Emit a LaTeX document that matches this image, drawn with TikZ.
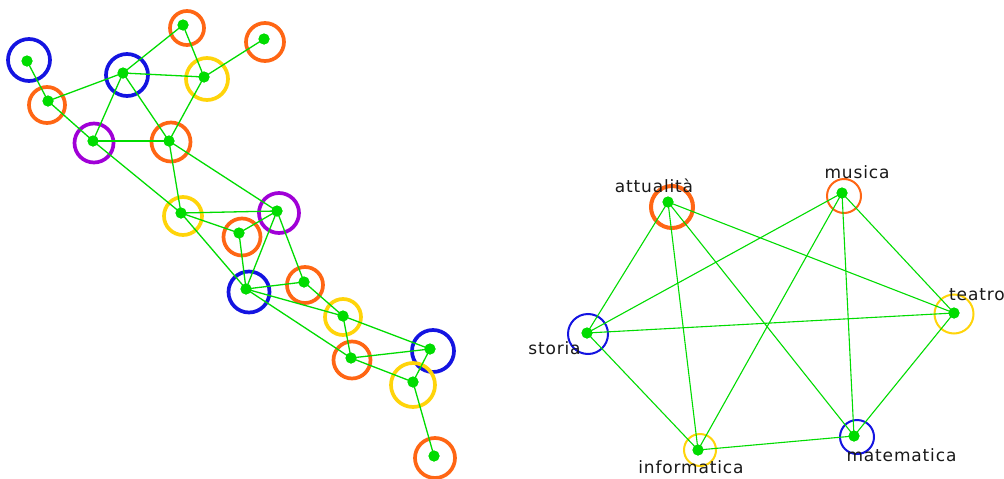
\documentclass[tikz,border=0pt]{standalone}
\usepackage{fontspec}
\setmainfont{DejaVu Sans}[LetterSpace=5]
\definecolor{gg}{RGB}{0,220,0}
\definecolor{cor}{RGB}{255,102,20}
\definecolor{cbl}{RGB}{20,20,225}
\definecolor{cye}{RGB}{255,212,10}
\definecolor{cpu}{RGB}{160,0,215}
\tikzset{
  dot/.style={circle,fill=gg,inner sep=0pt,minimum size=11pt},
  ring/.style={circle,draw=#1,line width=3.7pt,inner sep=0pt},
  thinring/.style={circle,draw=#1,line width=2pt,inner sep=0pt},
  edge/.style={draw=gg,line width=1.3pt},
  redge/.style={draw=gg,line width=1.1pt},
  lab/.style={inner sep=0pt,anchor=base,font=\fontsize{17}{20}\selectfont,text=black!90}
}
\begin{document}
\begin{tikzpicture}[x=1pt,y=-1pt]
\useasboundingbox[fill=white] (0,0) rectangle (1004,479);
% rings (left)
\node[ring=cbl,minimum size=42pt] (rA) at (29,60) {};
\node[ring=cor,minimum size=36pt] (rB) at (47,105) {};
\node[ring=cbl,minimum size=42pt] (rC) at (127,75) {};
\node[ring=cor,minimum size=34pt] (rD) at (187,28) {};
\node[ring=cor,minimum size=38pt] (rE) at (265,42) {};
\node[ring=cye,minimum size=42pt] (rF) at (207,79) {};
\node[ring=cpu,minimum size=39pt] (rG) at (94,143) {};
\node[ring=cor,minimum size=39pt] (rH) at (171,142) {};
\node[ring=cye,minimum size=38pt] (rI) at (183,216) {};
\node[ring=cpu,minimum size=40pt] (rJ) at (279,213) {};
\node[ring=cor,minimum size=37pt] (rK) at (242,237) {};
\node[ring=cbl,minimum size=41pt] (rL) at (249,292) {};
\node[ring=cor,minimum size=36pt] (rM) at (305,285) {};
\node[ring=cye,minimum size=36pt] (rN) at (343,317) {};
\node[ring=cor,minimum size=37pt] (rO) at (352,360) {};
\node[ring=cbl,minimum size=42pt] (rP) at (433,351) {};
\node[ring=cye,minimum size=44pt] (rQ) at (413,385) {};
\node[ring=cor,minimum size=40pt] (rR) at (435,458) {};
% dots (left)
\node[dot] (A) at (27,61) {};
\node[dot] (B) at (48,101) {};
\node[dot] (C) at (123,73) {};
\node[dot] (D) at (183,25) {};
\node[dot] (E) at (264,39) {};
\node[dot] (F) at (204,77) {};
\node[dot] (G) at (93,141) {};
\node[dot] (H) at (169,141) {};
\node[dot] (I) at (181,213) {};
\node[dot] (J) at (277,211) {};
\node[dot] (K) at (239,233) {};
\node[dot] (L) at (246,289) {};
\node[dot] (M) at (304,282) {};
\node[dot] (N) at (343,316) {};
\node[dot] (O) at (351,358) {};
\node[dot] (P) at (430,349) {};
\node[dot] (Q) at (413,382) {};
\node[dot] (R) at (434,456) {};
% edges (left)
\foreach \a/\b in {A/B,B/C,B/G,C/D,C/F,C/G,C/H,D/F,E/F,F/H,G/H,G/I,H/I,H/J,I/J,I/K,I/L,J/K,J/L,J/M,K/L,L/M,L/N,L/O,M/N,N/O,N/P,O/P,O/Q,P/Q,Q/R}
  \draw[edge] (\a.center) -- (\b.center);
\foreach \n in {A,B,C,D,E,F,G,H,I,J,K,L,M,N,O,P,Q,R}
  \node[dot] at (\n) {};
% right graph rings
\node[ring=cor,line width=4pt,minimum size=42pt] (ratt) at (672,207) {};
\node[thinring=cor,minimum size=34pt] (rmus) at (844,196) {};
\node[thinring=cye,minimum size=39pt] (rtea) at (954,314) {};
\node[thinring=cbl,minimum size=40pt] (rsto) at (588,334) {};
\node[thinring=cye,minimum size=32pt] (rinf) at (700,450) {};
\node[thinring=cbl,minimum size=34pt] (rmat) at (857,437) {};
% right graph dots
\node[dot] (att) at (668,202) {};
\node[dot] (mus) at (842,193) {};
\node[dot] (tea) at (954,313) {};
\node[dot] (sto) at (587,333) {};
\node[dot] (inf) at (698,450) {};
\node[dot] (mat) at (854,436) {};
\foreach \a/\b in {att/sto,att/inf,att/mat,att/tea,mus/sto,mus/inf,mus/mat,mus/tea,sto/tea,sto/inf,inf/mat,tea/mat}
  \draw[redge] (\a.center) -- (\b.center);
\foreach \n in {att,mus,tea,sto,inf,mat}
  \node[dot] at (\n) {};
% labels
\node[lab] (latt) at (654,192) {attualità};
\node[lab] (lmus) at (857,178) {musica};
\node[lab,anchor=base west] (ltea) at (949,300) {teatro};
\node[lab] (lsto) at (554.5,354) {storia};
\node[lab] (linf) at (691,473) {informatica};
\node[lab] (lmat) at (901.5,461) {matematica};
\end{tikzpicture}
\end{document}
